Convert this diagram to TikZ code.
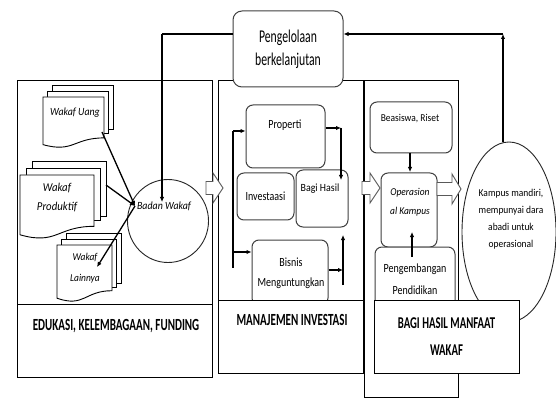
\documentclass[tikz,border=0pt]{standalone}
\usepackage{fontspec}
\setmainfont{Carlito}
\newfontfamily\fbig{Carlito}[FakeStretch=0.65]
\newfontfamily\fmid{Carlito}[FakeStretch=0.8]
\newfontfamily\fsm{Carlito}[FakeStretch=0.9]
\usetikzlibrary{shapes.geometric,arrows.meta}
\newcommand{\mdoc}[8]{%
 \filldraw[docline] ({#1+2*#5},{#2-2*#6}) rectangle ({#3+2*#5},#8);
 \filldraw[docline] ({#1+#5},{#2-#6}) rectangle ({#3+#5},#7);
 \filldraw[docline] (#1,#2) -- (#3,#2) -- (#3,{#2+0.802*#4}) .. controls ({(#1+#3)/2},{#2+0.802*#4}) and ({(#1+#3)/2},{#2+1.1*#4}) .. (#1,{#2+0.934*#4}) -- cycle;
}
\newcommand{\blkarrow}[4]{%
 \filldraw[blk] (#1,{#4-6.5}) -- (#3,{#4-6.5}) -- (#3,{#4-15}) -- (#2,#4) -- (#3,{#4+15}) -- (#3,{#4+6.5}) -- (#1,{#4+6.5}) -- cycle;
}
\begin{document}
\begin{tikzpicture}[x=1pt,y=-1pt,
 panel/.style={draw=black, line width=0.9pt},
 rbox/.style={draw=black!75, fill=white, line width=1pt, rounded corners=7pt, inner sep=0pt},
 docline/.style={draw=black, line width=0.9pt, fill=white},
 blk/.style={draw=black!65, fill=white, line width=0.9pt},
 conn/.style={line width=1.3pt, -{Latex[length=5pt,width=4.5pt]}},
 plain/.style={line width=1.3pt},
 txt/.style={inner sep=0pt, align=center},
]
\useasboundingbox (0,0) rectangle (556,403);
\fill[white] (0,0) rectangle (556,403);

% panels
\draw[panel] (17,80) rectangle (212,377);
\draw[panel] (17,304) -- (212,304);
\draw[panel] (218,80) rectangle (363,373);
\draw[panel] (364,80) rectangle (458,397);

% documents
\mdoc{43}{97}{104}{51}{4.5}{6}{133}{129}
\mdoc{20}{175}{94}{64}{6}{7}{220}{216}
\mdoc{57}{245}{112}{57}{4.5}{6}{287}{283}
\node[txt, font={\fsm\itshape\fontsize{11}{13}\selectfont}] (uang) at (75,113) {Wakaf Uang};
\node[txt, font={\fsm\itshape\fontsize{12}{19}\selectfont}] (prod) at (57,197.5) {Wakaf\\Produktif};
\node[txt, font={\fsm\itshape\fontsize{10.5}{21}\selectfont}] (lain) at (85,268.5) {Wakaf\\Lainnya};

% Badan Wakaf
\node[ellipse, draw=black!85, line width=0.9pt, minimum width=81pt, minimum height=83pt, inner sep=0pt] (badan) at (168,221) {};
\node[txt, font={\fsm\itshape\fontsize{11}{13}\selectfont}] (badanT) at (164,206) {Badan Wakaf};

% panel 2 boxes
\node[rbox, minimum width=79pt, minimum height=63pt] (properti) at (285.5,136.5) {};
\node[txt, font={\fmid\fontsize{12.5}{15}\selectfont}] (propertiT) at (285,125) {Properti};
\node[rbox, minimum width=57pt, minimum height=47pt, font={\fmid\fontsize{12.5}{15}\selectfont}] (invest) at (265.5,196.5) {Investaasi};
\node[rbox, minimum width=52pt, minimum height=57pt] (bagi) at (322,198.5) {};
\node[txt, font={\fsm\fontsize{11}{13}\selectfont}] (bagiT) at (320,189) {Bagi Hasil};
\node[rbox, minimum width=76pt, minimum height=65pt] (bisnis) at (290,272.5) {};
\node[txt, font={\fmid\fontsize{12.5}{20}\selectfont}] (bisnisT) at (291,273) {Bisnis\\Menguntungkan};

% panel 3 boxes
\node[rbox, minimum width=82pt, minimum height=51pt] (beas) at (411,127.5) {};
\node[txt, font={\fsm\fontsize{10.5}{13}\selectfont}] (beasT) at (410,119) {Beasiswa, Riset};
\node[rbox, minimum width=56pt, minimum height=74pt] (oper) at (409,210) {};
\node[txt, font={\fsm\itshape\fontsize{10.5}{19}\selectfont}] (operT) at (410,202.5) {Operasion\\al Kampus};
\node[rbox, minimum width=80pt, minimum height=63pt] (pengemb) at (415,278.5) {};
\node[txt, font={\fmid\fontsize{12.5}{22}\selectfont}] (pengembT) at (415,279) {Pengembangan\\Pendidikan};

% Kampus ellipse
\node[ellipse, draw=black!85, fill=white, line width=0.9pt, minimum width=94pt, minimum height=180pt, inner sep=0pt] (kampus) at (509,232) {};
\node[txt, font={\fsm\fontsize{10.5}{17}\selectfont}] (kampusT) at (511,219.5) {Kampus mandiri,\\mempunyai dara\\abadi untuk\\operasional};

% bottom label boxes
\node[txt, font={\fbig\bfseries\fontsize{17}{20}\selectfont}] (edu) at (116,326) {EDUKASI, KELEMBAGAAN, FUNDING};
\node[panel, fill=white, minimum width=145pt, minimum height=73pt, inner sep=0pt] (manaj) at (290.5,336.5) {};
\node[txt, font={\fbig\bfseries\fontsize{17}{20}\selectfont}] (manajT) at (292,320) {MANAJEMEN INVESTASI};
\node[panel, fill=white, minimum width=145pt, minimum height=73pt, inner sep=0pt, align=center, font={\fbig\bfseries\fontsize{16.5}{27}\selectfont}] (bhm) at (446.5,337) {BAGI HASIL MANFAAT\\WAKAF};

% Pengelolaan
\node[rbox, rounded corners=9pt, minimum width=110pt, minimum height=76pt, align=center, font={\fbig\fontsize{18}{23}\selectfont}] (peng) at (288,49) {Pengelolaan\\berkelanjutan};

% block arrows
\blkarrow{206}{223}{213}{188}
\blkarrow{362}{380}{370}{188}
\blkarrow{437}{461}{452}{189}

% connectors: left panel
\coordinate (bwpt) at (135,206);
\coordinate (uangpt) at (102,132);
\coordinate (prodpt) at (106,185);
\coordinate (lainpt) at (97,267);
\draw[conn] (uangpt) -- (bwpt);
\draw[conn] (prodpt) -- (bwpt);
\draw[conn] (bwpt) -- (lainpt);

% connectors: top loop
\coordinate (tl) at (162,34);
\coordinate (tr) at (503,34);
\coordinate (bwtop) at (162,202);
\draw[plain] (peng.west |- tl) -- (tl);
\draw[conn] (tl) -- (bwtop);
\draw[conn] (tr |- kampus.north) -- (tr);
\draw[conn] (tr) -- (peng.east |- tr);

% connectors: panel 2
\coordinate (lvtop) at (233,131);
\coordinate (lvbot) at (233,268);
\coordinate (lvb) at (233,252);
\draw[plain] (lvtop) -- (lvbot);
\draw[conn] (lvtop) -- (properti.west |- lvtop);
\draw[conn] (lvb) -- (bisnis.west |- lvb);
\coordinate (pr) at (341,128);
\coordinate (bgin) at (341,180);
\draw[conn] (properti.east |- pr) -- (pr);
\draw[conn] (pr) -- (bgin);
\coordinate (bs) at (343,270);
\coordinate (bsbot) at (343,285);
\coordinate (bgbelow) at (343,235);
\draw[conn] (bisnis.east |- bs) -- (bs);
\draw[conn] (bsbot) -- (bgbelow);

% connectors: panel 3
\coordinate (bsin) at (410,153);
\coordinate (opin) at (410,172);
\draw[conn] (bsin) -- (opin);
\coordinate (pgin) at (412,257);
\coordinate (opbot) at (412,232);
\draw[conn] (pgin) -- (opbot);
\end{tikzpicture}
\end{document}
